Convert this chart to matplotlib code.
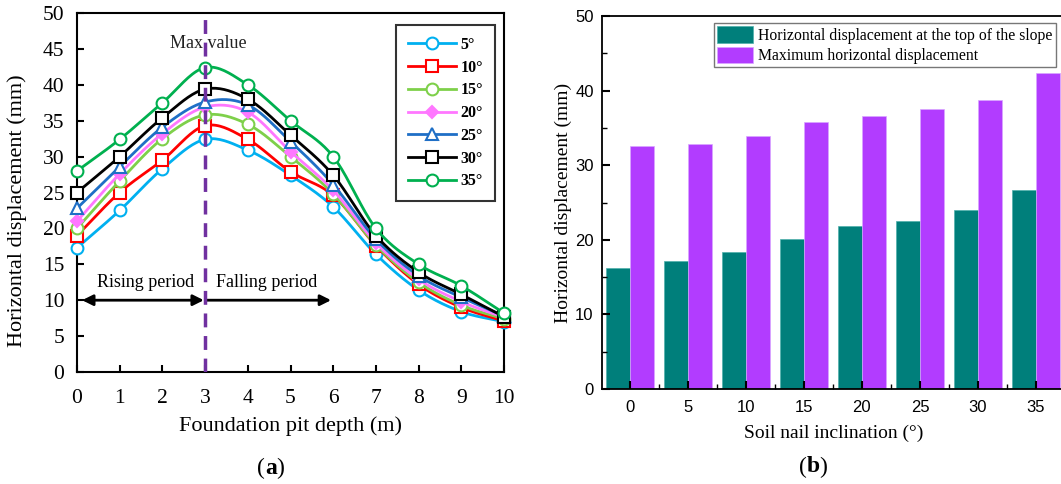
import numpy as np
import matplotlib
matplotlib.use('Agg')
import matplotlib.pyplot as plt

# ---- data ----
depth = [0, 1, 2, 3, 4, 5, 6, 7, 8, 9, 10]
angle_labels = ['5°', '10°', '15°', '20°', '25°', '30°', '35°']
disp_5 = [17.3, 22.5, 28.3, 32.4, 30.9, 27.4, 23.0, 16.4, 11.4, 8.4, 7.0]
disp_10 = [19.0, 25.0, 29.5, 34.3, 32.4, 27.9, 24.6, 17.6, 12.2, 9.0, 7.1]
disp_15 = [20.0, 26.6, 32.5, 35.8, 34.5, 30.0, 24.8, 17.7, 12.5, 9.3, 7.4]
disp_20 = [21.0, 27.6, 33.2, 36.9, 36.2, 30.7, 25.3, 18.0, 12.9, 9.8, 7.6]
disp_25 = [22.8, 28.6, 34.1, 37.6, 37.2, 32.1, 26.1, 18.5, 13.4, 10.4, 7.8]
disp_30 = [25.0, 30.0, 35.4, 39.4, 38.0, 33.0, 27.4, 19.0, 13.9, 10.8, 7.7]
disp_35 = [28.0, 32.4, 37.5, 42.4, 40.0, 35.0, 30.0, 20.0, 15.0, 12.0, 8.2]

inclination = ['0', '5', '10', '15', '20', '25', '30', '35']
top_disp = [16.2, 17.1, 18.4, 20.1, 21.8, 22.5, 24.0, 26.7]
max_disp = [32.6, 32.9, 33.9, 35.8, 36.6, 37.5, 38.7, 42.4]

line_colors = ['#00B0F0', '#FF0000', '#7ED04A', '#FF77FF', '#1F6FC6', '#000000', '#00B04F']
line_markers = ['o', 's', 'o', 'D', '^', 's', 'o']
series = [disp_5, disp_10, disp_15, disp_20, disp_25, disp_30, disp_35]

serif = 'Liberation Serif'
sans = 'Liberation Sans'


def smooth(x, y, n=20):
    # cubic hermite curve through the points, for drawing only
    x = np.asarray(x, float)
    y = np.asarray(y, float)
    m = np.gradient(y, x)
    xs, ys = [], []
    for i in range(len(x) - 1):
        t = np.linspace(0, 1, n, endpoint=False)
        h = x[i + 1] - x[i]
        h00 = 2 * t**3 - 3 * t**2 + 1
        h10 = t**3 - 2 * t**2 + t
        h01 = -2 * t**3 + 3 * t**2
        h11 = t**3 - t**2
        xs.append(x[i] + t * h)
        ys.append(h00 * y[i] + h10 * h * m[i] + h01 * y[i + 1] + h11 * h * m[i + 1])
    xs.append([x[-1]])
    ys.append([y[-1]])
    return np.concatenate(xs), np.concatenate(ys)


W, H = 1061, 484
fig = plt.figure(figsize=(W / 100, H / 100), dpi=100)

# ---------------- (a) ----------------
ax1 = fig.add_axes([77 / W, 1 - 372 / H, 427 / W, 359 / H])
for ys, c, mk, lab in zip(series, line_colors, line_markers, angle_labels):
    sx, sy = smooth(depth, ys)
    ms = 6 if mk == 'D' else 8.5
    mfc = c if mk == 'D' else 'white'
    ax1.plot(sx, sy, color=c, lw=2, marker=mk, markevery=20, ms=ms,
             mfc=mfc, mec=c, mew=1.5, label=lab, clip_on=False, zorder=3)

ax1.axvline(3, color='#7030A0', lw=2.5, ls=(0, (4, 2.5)), zorder=4)
ax1.text(3.07, 45.7, 'Max value', ha='center', va='center', fontsize=13,
         family=serif, color='#222222', zorder=2)
ax1.annotate('', xy=(0.12, 10), xytext=(2.97, 10),
             arrowprops=dict(arrowstyle='<|-|>', color='black', lw=2,
                             mutation_scale=16, shrinkA=0, shrinkB=0))
ax1.annotate('', xy=(5.95, 10), xytext=(3.03, 10),
             arrowprops=dict(arrowstyle='-|>', color='black', lw=2,
                             mutation_scale=16, shrinkA=0, shrinkB=0))
ax1.text(1.6, 12.4, 'Rising period', ha='center', va='center', fontsize=13, family=serif)
ax1.text(4.45, 12.4, 'Falling period', ha='center', va='center', fontsize=13, family=serif)

ax1.set_xlim(0, 10)
ax1.set_ylim(0, 50)
ax1.set_xticks(depth)
ax1.set_yticks(range(0, 51, 5))
ax1.tick_params(direction='in', length=5, width=1.5, labelsize=15.5, pad=9)
ax1.tick_params(axis='x', pad=12)
for lbl in ax1.get_xticklabels() + ax1.get_yticklabels():
    lbl.set_family(serif)
for s in ax1.spines.values():
    s.set_linewidth(1.5)
ax1.set_xlabel('Foundation pit depth (m)', fontsize=16, family=serif, labelpad=6)
ax1.set_ylabel('Horizontal displacement (mm)', fontsize=16, family=serif)
ax1.yaxis.set_label_coords(-0.118, 0.45)

leg1 = ax1.legend(loc='upper left', bbox_to_anchor=(396 / W, 1 - 25 / H),
                  bbox_transform=fig.transFigure, frameon=True, fancybox=False,
                  prop=dict(family=serif, weight='bold', size=11.5),
                  handlelength=3.0, labelspacing=0.42, borderpad=0.75,
                  handletextpad=0.3, borderaxespad=0)
leg1.get_frame().set_edgecolor('black')
leg1.get_frame().set_linewidth(1.5)

fig.text(265 / W, 1 - 468 / H, '(', ha='right', va='center', fontsize=17, family=serif)
fig.text(265 / W, 1 - 468 / H, 'a', ha='left', va='center', fontsize=17,
         family=serif, weight='bold')
fig.text(265 / W + 0.0105, 1 - 468 / H, ')', ha='left', va='center', fontsize=17, family=serif)

# ---------------- (b) ----------------
ax2 = fig.add_axes([602 / W, 1 - 389 / H, 463 / W, 373 / H])
pos = np.arange(len(inclination))
bw = 0.41
ax2.bar(pos - bw / 2, top_disp, bw, color='#007F7B', edgecolor='#4FB0AC', lw=0.5,
        label='Horizontal displacement at the top of the slope')
ax2.bar(pos + bw / 2, max_disp, bw, color='#B23CFF', edgecolor='#D9A6FF', lw=0.5,
        label='Maximum horizontal displacement')
ax2.set_xlim(-0.48, 7.5)
ax2.set_ylim(0, 50)
ax2.set_xticks(pos)
ax2.set_xticklabels(inclination)
ax2.set_xticks(pos[:-1] + 0.5, minor=True)
ax2.set_yticks(range(0, 51, 10))
ax2.set_yticks(range(5, 50, 10), minor=True)
ax2.tick_params(direction='in', length=6, width=1.5, labelsize=12)
ax2.tick_params(axis='y', pad=6)
ax2.tick_params(axis='x', pad=8)
ax2.tick_params(which='minor', direction='in', length=3.5, width=1)
for lbl in ax2.get_xticklabels() + ax2.get_yticklabels():
    lbl.set_family(sans)
for s in ax2.spines.values():
    s.set_linewidth(1.3)
ax2.set_xlabel('Soil nail inclination (°)', fontsize=14, family=serif, labelpad=7)
ax2.set_ylabel('Horizontal displacement (mm)', fontsize=14, family=serif, labelpad=2)

leg2 = ax2.legend(loc='upper left', bbox_to_anchor=(714 / W, 1 - 23 / H),
                  bbox_transform=fig.transFigure, frameon=True, fancybox=False,
                  prop=dict(family=serif, size=11.3), handlelength=2.25,
                  handleheight=1.2, labelspacing=0.18, borderpad=0.22,
                  handletextpad=0.35, borderaxespad=0)
leg2.get_frame().set_edgecolor('#555555')
leg2.get_frame().set_linewidth(1)

fig.text(807 / W, 1 - 467 / H, '(', ha='right', va='center', fontsize=17, family=serif)
fig.text(807 / W, 1 - 467 / H, 'b', ha='left', va='center', fontsize=17,
         family=serif, weight='bold')
fig.text(807 / W + 0.0115, 1 - 467 / H, ')', ha='left', va='center', fontsize=17, family=serif)

fig.savefig('out.png', dpi=100)
